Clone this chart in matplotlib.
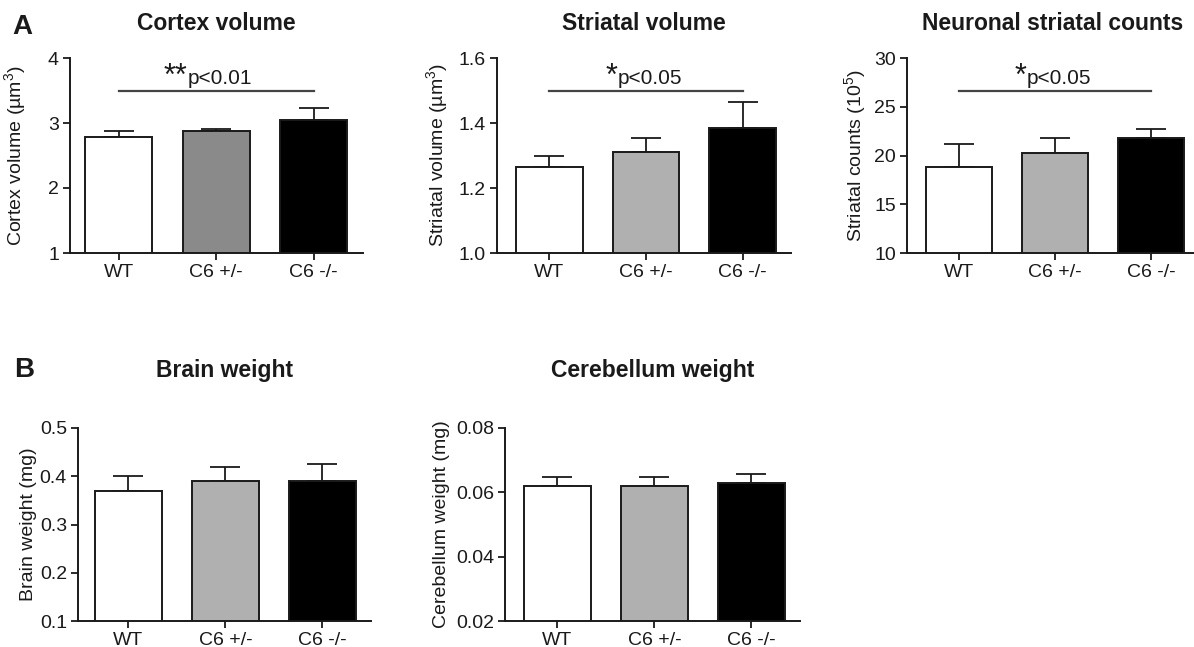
import matplotlib
matplotlib.use("Agg")
import matplotlib.pyplot as plt
import numpy as np

plt.rcParams['font.family'] = ['Liberation Sans', 'DejaVu Sans']
plt.rcParams['mathtext.fontset'] = 'custom'
plt.rcParams['mathtext.rm'] = 'Liberation Sans'
plt.rcParams['mathtext.it'] = 'Liberation Sans'

# groups
groups = ["WT", "C6 +/-", "C6 -/-"]

# panel A
cortex_mean = [2.78, 2.87, 3.05]
cortex_sem = [0.09, 0.04, 0.18]
striatal_mean = [1.265, 1.31, 1.385]
striatal_sem = [0.035, 0.045, 0.08]
counts_mean = [18.8, 20.3, 21.8]
counts_sem = [2.4, 1.5, 0.9]

# panel B
brain_mean = [0.37, 0.39, 0.39]
brain_sem = [0.03, 0.03, 0.035]
cereb_mean = [0.062, 0.062, 0.063]
cereb_sem = [0.0027, 0.0027, 0.0027]

W, H = 1194, 647
fig = plt.figure(figsize=(W / 100, H / 100), dpi=100)

dark = "#1a1a1a"


def make_panel(px_left, px_top, px_h, spacing, left_lim, means, sems, colors,
               ylim, yticks, yfmt, ylabel, ylab_x, title, title_gap, sig=None):
    right_lim = 2.5
    px_w = (right_lim - left_lim) * spacing
    ax = fig.add_axes([px_left / W, 1 - (px_top + px_h) / H, px_w / W, px_h / H])
    x = np.arange(len(means))
    ax.errorbar(x, means, yerr=[np.zeros(len(sems)), sems], fmt="none",
                ecolor=dark, elinewidth=1.3, capsize=11, capthick=1.3, zorder=1)
    ax.bar(x, means, width=0.69, color=colors, edgecolor=dark, linewidth=1.4,
           zorder=2)
    ax.set_ylim(*ylim)
    ax.set_xlim(left_lim, right_lim)
    ax.set_yticks(yticks)
    ax.set_yticklabels([yfmt.format(v) for v in yticks])
    ax.set_xticks(x)
    ax.set_xticklabels(groups)
    for s in ["top", "right"]:
        ax.spines[s].set_visible(False)
    for s in ["left", "bottom"]:
        ax.spines[s].set_linewidth(1.4)
        ax.spines[s].set_color(dark)
    ax.tick_params(axis="both", length=5, width=1.3, color=dark,
                   labelsize=14, labelcolor=dark)
    ax.tick_params(axis="x", pad=3)
    ax.tick_params(axis="y", pad=3)
    ax.set_ylabel(ylabel, fontsize=14, color=dark)
    ax.yaxis.set_label_coords(ylab_x, 0.5)
    ax.text(0.5, 1 + title_gap / px_h, title, transform=ax.transAxes,
            ha="center", va="baseline", fontsize=16.5, fontweight="bold",
            color=dark)
    if sig is not None:
        stars, ptxt, yline = sig
        ax.plot([0, 2], [yline, yline], color="#444444", lw=1.6, clip_on=False)
        ax.text(0.70, 0.905, stars, transform=ax.get_xaxis_transform(),
                ha="right", va="center", fontsize=22, color=dark)
        ax.text(0.71, 0.868, ptxt, transform=ax.get_xaxis_transform(),
                ha="left", va="baseline", fontsize=15, color=dark)
    return ax


white, light, mid, black = "white", "#b0b0b0", "#8a8a8a", "black"

make_panel(70, 58, 195, 97.5, -0.5, cortex_mean, cortex_sem, [white, mid, black],
           (1, 4), [1, 2, 3, 4], "{:g}", "Cortex volume (µm$^3$)", -0.144,
           "Cortex volume", 28, ("**", "p<0.01", 3.5))
make_panel(497, 58, 195, 96.75, -0.54, striatal_mean, striatal_sem,
           [white, light, black], (1.0, 1.6), [1.0, 1.2, 1.4, 1.6], "{:.1f}",
           "Striatal volume (µm$^3$)", -0.16, "Striatal volume", 28,
           ("*", "p<0.05", 1.5))
make_panel(907, 58, 195, 96, -0.54, counts_mean, counts_sem,
           [white, light, black], (10, 30), [10, 15, 20, 25, 30], "{:g}",
           "Striatal counts (10$^5$)", -0.134, "Neuronal striatal counts", 28,
           ("*", "p<0.05", 26.6))
make_panel(78, 428, 193, 97, -0.52, brain_mean, brain_sem, [white, light, black],
           (0.1, 0.5), [0.1, 0.2, 0.3, 0.4, 0.5], "{:.1f}",
           "Brain weight (mg)", -0.14, "Brain weight", 51)
make_panel(505, 428, 193, 97, -0.54, cereb_mean, cereb_sem, [white, light, black],
           (0.02, 0.08), [0.02, 0.04, 0.06, 0.08], "{:.2f}",
           "Cerebellum weight (mg)", -0.186, "Cerebellum weight", 51)

fig.text(12 / W, 1 - 34 / H, "A", fontsize=20, fontweight="bold", color=dark,
         va="baseline")
fig.text(14 / W, 1 - 377 / H, "B", fontsize=20, fontweight="bold", color=dark,
         va="baseline")

fig.savefig("out.png", dpi=100)
